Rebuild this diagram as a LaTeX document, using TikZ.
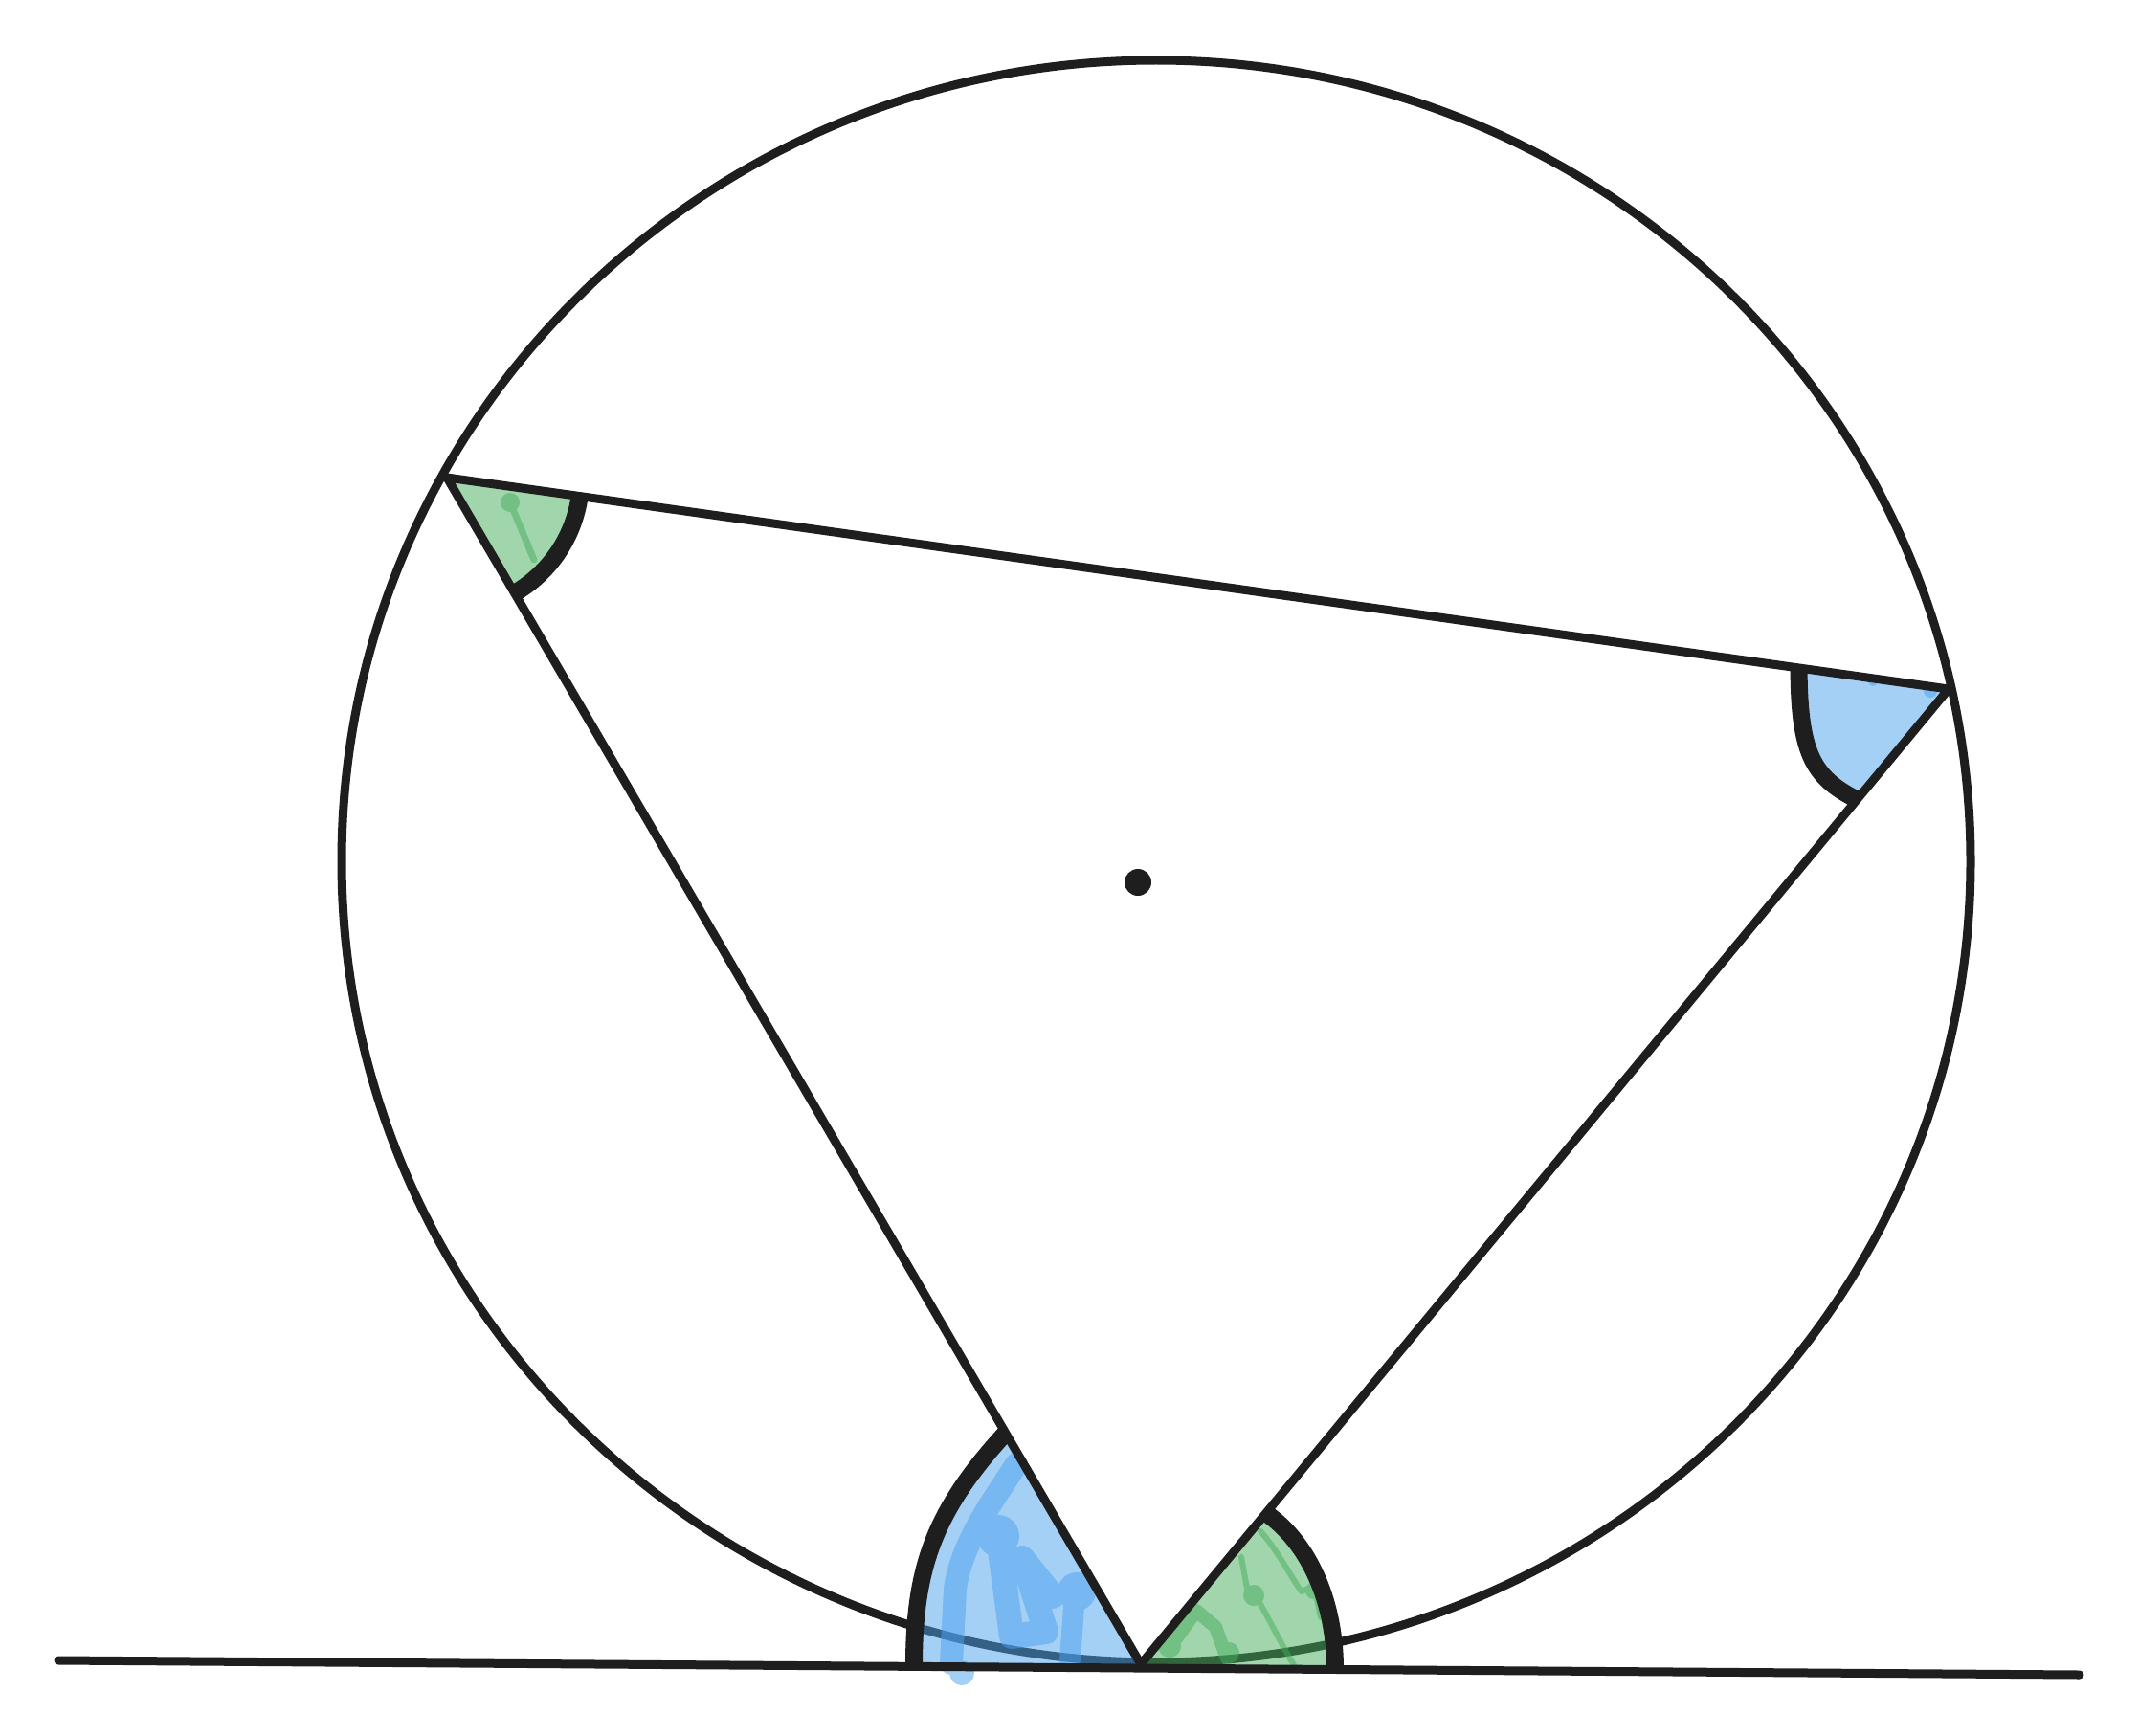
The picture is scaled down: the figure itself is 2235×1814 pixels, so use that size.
\documentclass[tikz,border=0pt]{standalone}
\usetikzlibrary{calc}
\definecolor{ink}{RGB}{30,30,30}
\definecolor{bfillc}{RGB}{75,162,239}
\definecolor{gfillc}{RGB}{68,172,91}
\begin{document}
\begin{tikzpicture}[x=1pt,y=-1pt,
  thin line/.style={draw=ink,line width=9pt,line cap=round,line join=round},
  angarc/.style={draw=ink,line width=18pt,line cap=butt},
  bfill/.style={fill=bfillc,fill opacity=0.5},
  gfill/.style={fill=gfillc,fill opacity=0.5},
  bsq/.style={draw=bfillc,line cap=round,line join=round},
  gsq/.style={draw=gfillc,line cap=round,line join=round}]
\useasboundingbox (0,0) rectangle (2235,1814);
\fill[white] (0,0) rectangle (2235,1814);
% points
\coordinate (O) at (1208,900);
\coordinate (A) at (467,499);
\coordinate (B) at (2036,720);
\coordinate (C) at (1192,1739);
\coordinate (T1) at (61,1735);
\coordinate (T2) at (2173,1750);
\coordinate (CAe) at ($(C)!280pt!(A)$);
\coordinate (CBe) at ($(C)!205pt!(B)$);
\coordinate (BAe) at ($(B)!158pt!(A)$);
\coordinate (BCe) at ($(B)!150pt!(C)$);
\coordinate (Lb) at (955,1741);
\coordinate (Rb) at (1395,1744);
% circle
\draw[thin line] (O) ellipse [x radius=851, y radius=837];
% fills
\fill[gfill] (A) -- ([shift={(8:140)}]A) arc[start angle=8,end angle=59.6,radius=140] -- cycle;
\fill[bfill] (B) -- (BAe) .. controls (1880,785) and (1893,812) .. (BCe) -- cycle;
\fill[bfill] (C) -- (Lb) .. controls (955,1640) and (975,1580) .. (CAe) -- cycle;
\fill[gfill] (C) -- (CBe) .. controls (1365,1610) and (1395,1670) .. (Rb) -- cycle;
% sketchy hachure marks
\begin{scope}[transparency group, opacity=0.5]
\draw[bsq,line width=24pt] (1062,1530) .. controls (1040,1565) and (1005,1610) .. (998,1660) -- (994,1738);
\fill[bfillc] (1005,1748) circle[radius=13];
\draw[bsq,line width=26pt] (1043,1605) -- (1057,1710) -- (1093,1705) -- (1068,1628) -- (1100,1668);
\fill[bfillc] (1043,1605) circle[radius=22];
\fill[bfillc] (1125,1663) circle[radius=20];
\draw[bsq,line width=22pt] (1123,1665) -- (1118,1735);
\fill[bfillc] (1957,712) circle[radius=5];
\fill[bfillc] (2017,722) circle[radius=7];
\end{scope}
\begin{scope}[transparency group, opacity=0.5]
\draw[gsq,line width=6pt] (1297,1627) -- (1303,1660) -- (1312,1667) .. controls (1325,1690) and (1340,1720) .. (1352,1740);
\fill[gfillc] (1310,1667) circle[radius=11];
\draw[gsq,line width=6pt] (1317,1600) .. controls (1335,1620) and (1350,1650) .. (1360,1663) -- (1373,1657) -- (1380,1690);
\fill[gfillc] (1373,1662) circle[radius=9];
\draw[gsq,line width=14pt] (1222,1722) -- (1250,1683) -- (1270,1700) -- (1282,1733);
\fill[gfillc] (1222,1720) circle[radius=12];
\fill[gfillc] (1284,1727) circle[radius=11];
\fill[gfillc] (533,525) circle[radius=10];
\draw[gsq,line width=7pt] (533,525) -- (558,585);
\end{scope}
% angle arcs
\draw[angarc] ([shift={(8:140)}]A) arc[start angle=8,end angle=59.6,radius=140];
\draw[angarc] (BAe) .. controls (1880,785) and (1893,812) .. (BCe);
\draw[angarc] (Lb) .. controls (955,1640) and (975,1580) .. (CAe);
\draw[angarc] (CBe) .. controls (1365,1610) and (1395,1670) .. (Rb);
% triangle
\draw[thin line] (A) -- (B) -- (C) -- cycle;
% tangent
\draw[thin line] (T1) -- (T2);
% centre dot
\fill[ink] (1189,922) circle[radius=14];
\end{tikzpicture}
\end{document}
